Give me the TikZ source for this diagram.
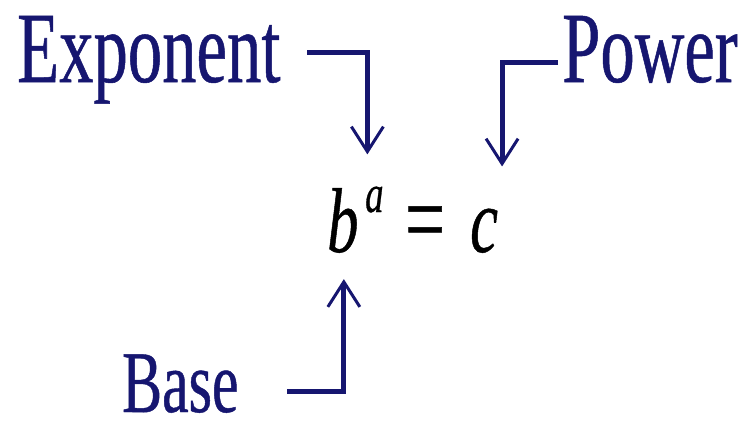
\documentclass[tikz,border=0pt]{standalone}
\usepackage{fontspec}
\setmainfont{Liberation Serif}[FakeStretch=0.68,FakeBold=0.5]
\usetikzlibrary{positioning,arrows.meta}
\definecolor{navy}{RGB}{22,22,112}

\begin{document}
\begin{tikzpicture}[
    x=1pt,y=-1pt,
    every node/.style={inner sep=0pt,anchor=base west},
    lbl/.style={text=navy,font=\fontsize{101}{101}\selectfont},
    sym/.style={font=\fontsize{92}{92}\selectfont\itshape},
    conn/.style={draw=navy,line width=5pt,-{Straight Barb[length=25pt,width=32pt,line width=3pt]}},
  ]
  \useasboundingbox (0,0) rectangle (741,426);
  \node[lbl] (expo)  at (17,82)  {Exponent};
  \node[lbl] (power) at (562,82) {Power};
  \node[lbl,font=\fontsize{88}{88}\selectfont] (base) at (122,412) {Base};
  % the identity
  \node[sym] (bb) at (327,252) {b};
  \node[sym,font=\fontsize{54}{54}\selectfont\itshape] (sup) at (365,212) {a};
  \node[sym,font=\fontsize{104}{104}\selectfont] (eq) at (405,254) {=};
  \node[sym] (cc) at (470,252) {c};
  \coordinate (expo-out)  at (307,52);
  \coordinate (power-out) at (558,62);
  \coordinate (base-out)  at (287,391);
  \draw[conn,shorten >=32pt] (expo-out) -| ([xshift=-7pt]sup.north);
  \draw[conn,shorten >=42pt] (power-out) -| ([xshift=18pt]cc.north);
  \draw[conn,shorten >=26pt] (base-out) -| ([xshift=1pt]bb.south);
\end{tikzpicture}
\end{document}
